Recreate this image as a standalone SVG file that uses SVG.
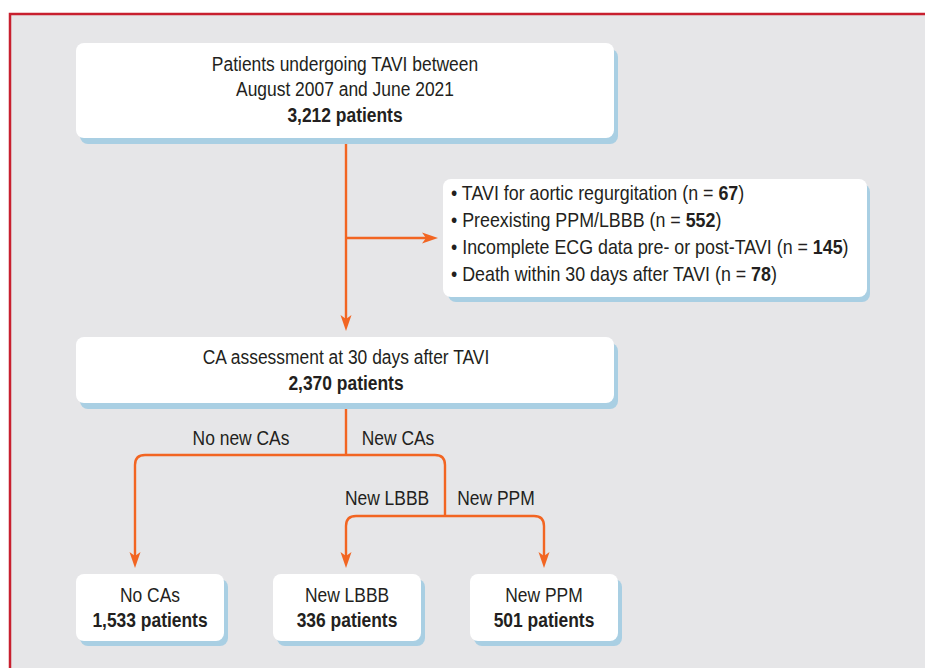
<svg xmlns="http://www.w3.org/2000/svg" width="925" height="668" viewBox="0 0 925 668">
<defs>
<style>
.t{font-family:"Liberation Sans",Arial,sans-serif;font-size:21px;fill:#231f20;text-anchor:middle}
.b{font-weight:bold}
.l{text-anchor:start}
.box{fill:#ffffff}
.sh{fill:#a9cfe3}
.c{fill:none;stroke:#f26522;stroke-width:2.4}
.ah{fill:#f26522}
</style>
<path id="ad" d="M0,0 L-5.5,-16 L0,-12 L5.5,-16 Z"/>
</defs>
<rect x="0" y="0" width="925" height="668" fill="#ffffff"/>
<rect x="10" y="14" width="925" height="670" fill="#e6e6e8" stroke="#c8202f" stroke-width="2.5"/>
<g id="connectors">
<path class="c" d="M346,138 V320"/>
<use href="#ad" class="ah" transform="translate(346,331)"/>
<path class="c" d="M346,238 H426"/>
<use href="#ad" class="ah" transform="translate(438,238) rotate(-90)"/>
<path class="c" d="M346,403 V455 M135,557 V465 Q135,455 145,455 H435 Q445,455 445,465 V516 M346,557 V526 Q346,516 356,516 H534 Q544,516 544,526 V557"/>
<use href="#ad" class="ah" transform="translate(135,568)"/>
<use href="#ad" class="ah" transform="translate(346,568)"/>
<use href="#ad" class="ah" transform="translate(544,568)"/>
</g>
<g id="n1">
<rect class="sh" x="80" y="49" width="538" height="95" rx="8"/>
<rect class="box" x="76" y="43" width="538" height="95" rx="8"/>
<text class="t" transform="translate(345,71) scale(0.83,1)">Patients undergoing TAVI between</text>
<text class="t" transform="translate(345,96) scale(0.83,1)">August 2007 and June 2021</text>
<text class="t b" transform="translate(345,122) scale(0.83,1)">3,212 patients</text>
</g>
<g id="n2">
<rect class="sh" x="448" y="184" width="422" height="118" rx="8"/>
<rect class="box" x="443" y="179" width="424" height="118" rx="8"/>
<text class="t l" transform="translate(451,200) scale(0.85,1)">• TAVI for aortic regurgitation (n = <tspan class="b">67</tspan>)</text>
<text class="t l" transform="translate(451,227) scale(0.85,1)">• Preexisting PPM/LBBB (n = <tspan class="b">552</tspan>)</text>
<text class="t l" transform="translate(451,254) scale(0.85,1)">• Incomplete ECG data pre- or post-TAVI (n = <tspan class="b">145</tspan>)</text>
<text class="t l" transform="translate(451,281) scale(0.85,1)">• Death within 30 days after TAVI (n = <tspan class="b">78</tspan>)</text>
</g>
<g id="n3">
<rect class="sh" x="80" y="343" width="538" height="66" rx="8"/>
<rect class="box" x="76" y="337" width="538" height="66" rx="8"/>
<text class="t" transform="translate(346,364) scale(0.83,1)">CA assessment at 30 days after TAVI</text>
<text class="t b" transform="translate(346,390) scale(0.83,1)">2,370 patients</text>
</g>
<g id="labels">
<text class="t" transform="translate(241,445) scale(0.83,1)">No new CAs</text>
<text class="t" transform="translate(398,445) scale(0.83,1)">New CAs</text>
<text class="t" transform="translate(387,505) scale(0.83,1)">New LBBB</text>
<text class="t" transform="translate(496,505) scale(0.83,1)">New PPM</text>
</g>
<g id="n4">
<rect class="sh" x="80" y="579" width="148" height="67" rx="8"/>
<rect class="box" x="76" y="574" width="148" height="67" rx="8"/>
<text class="t" transform="translate(150,602) scale(0.83,1)">No CAs</text>
<text class="t b" transform="translate(150,627) scale(0.83,1)">1,533 patients</text>
</g>
<g id="n5">
<rect class="sh" x="277" y="579" width="148" height="67" rx="8"/>
<rect class="box" x="273" y="574" width="148" height="67" rx="8"/>
<text class="t" transform="translate(347,602) scale(0.83,1)">New LBBB</text>
<text class="t b" transform="translate(347,627) scale(0.83,1)">336 patients</text>
</g>
<g id="n6">
<rect class="sh" x="474" y="579" width="148" height="67" rx="8"/>
<rect class="box" x="470" y="574" width="148" height="67" rx="8"/>
<text class="t" transform="translate(544,602) scale(0.83,1)">New PPM</text>
<text class="t b" transform="translate(544,627) scale(0.83,1)">501 patients</text>
</g>
</svg>
